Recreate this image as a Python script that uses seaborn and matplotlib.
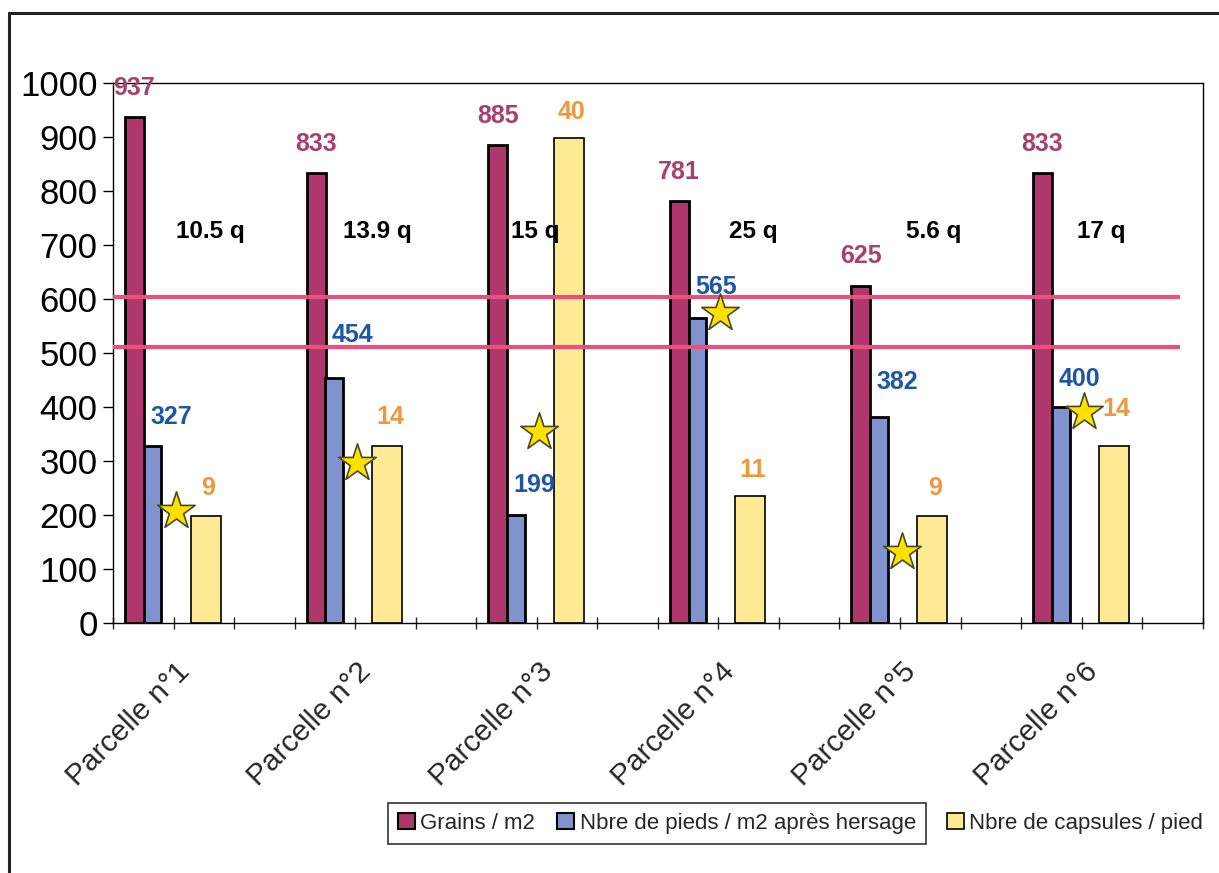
import numpy as np
import pandas as pd
import seaborn as sns
import matplotlib.pyplot as plt
from matplotlib.lines import Line2D
from matplotlib.patches import Patch

# ---- data ----
parcelles = ["Parcelle n°1", "Parcelle n°2", "Parcelle n°3",
             "Parcelle n°4", "Parcelle n°5", "Parcelle n°6"]
grains_m2 = [937, 833, 885, 781, 625, 833]
pieds_m2 = [327, 454, 199, 565, 382, 400]
capsules_pied = [9, 14, 40, 11, 9, 14]            # printed values
capsules_hauteur = [198, 327, 898, 235, 198, 327]  # bar height on the left scale
rendement_q = [10.5, 13.9, 15, 25, 5.6, 17]
etoiles = [207, 297, 354, 574, 132, 391]           # star level on the left scale
seuils = [603, 512]

# ---- style ----
COL_GRAINS = "#B0376B"
COL_PIEDS = "#8193CF"
COL_CAPS = "#FDEA92"
TXT_GRAINS = "#A8406E"
TXT_PIEDS = "#1F55A5"
TXT_CAPS = "#F0963C"
LINE_COL = "#E8507E"

sns.set_theme(style="white")
plt.rcParams["font.family"] = ["Liberation Sans", "DejaVu Sans"]

fig = plt.figure(figsize=(12.19, 8.73), dpi=100)
fig.patch.set_facecolor("white")
ax = fig.add_axes([0.0927, 0.2867, 0.8939, 0.6179])
ax.set_facecolor("white")

idx = np.arange(len(parcelles))
df = pd.DataFrame({"parcelle": parcelles, "grains": grains_m2, "pieds": pieds_m2,
                   "caps": capsules_hauteur, "etoile": etoiles})

# bar placement inside each group (group = one unit wide)
off_g, w_g = 0.118, 0.105
off_p, w_p = 0.218, 0.098
off_c, w_c = 0.51, 0.165

sns.barplot(x=idx + off_g, y=df["grains"], native_scale=True, width=w_g,
            color=COL_GRAINS, saturation=1, edgecolor="black", linewidth=2,
            errorbar=None, ax=ax, zorder=3)
sns.barplot(x=idx + off_p, y=df["pieds"], native_scale=True, width=w_p,
            color=COL_PIEDS, saturation=1, edgecolor="black", linewidth=2,
            errorbar=None, ax=ax, zorder=3)
sns.barplot(x=idx + off_c, y=df["caps"], native_scale=True, width=w_c,
            color=COL_CAPS, saturation=1, edgecolor="black", linewidth=1.2,
            errorbar=None, ax=ax, zorder=3)

# threshold lines
for s in seuils:
    ax.plot([0, 5.875], [s, s], color=LINE_COL, lw=3, zorder=4, solid_capstyle="butt")

# stars
sns.scatterplot(x=idx + 0.345, y=df["etoile"], marker="*", s=800,
                color="#FFE000", edgecolor="#4a4a20", linewidth=1.2,
                ax=ax, zorder=6, legend=False)

# value labels
blue_dy = [21, 31, 22, 22, 25, 20]
caps_dy = [20, 21, 19, 19, 20, 27]
q_dx = [0.534, 0.454, 0.327, 0.524, 0.521, 0.439]
for i in idx:
    ax.annotate(str(grains_m2[i]), (i + off_g, grains_m2[i]), xytext=(0, 21),
                textcoords="offset points", ha="center", va="center",
                fontsize=18, fontweight="bold", color=TXT_GRAINS, zorder=7)
    ax.annotate(str(pieds_m2[i]), (i + 0.32, pieds_m2[i]), xytext=(0, blue_dy[i]),
                textcoords="offset points", ha="center", va="center",
                fontsize=18, fontweight="bold", color=TXT_PIEDS, zorder=7)
    ax.annotate(str(capsules_pied[i]), (i + off_c + 0.015, capsules_hauteur[i]),
                xytext=(0, caps_dy[i]), textcoords="offset points",
                ha="center", va="center", fontsize=18, fontweight="bold",
                color=TXT_CAPS, zorder=7)
    ax.text(i + q_dx[i], 726, f"{rendement_q[i]:g} q", ha="center", va="center",
            fontsize=17.5, fontweight="bold", color="black", zorder=7)

# axes
ax.set_xlim(0, 6)
ax.set_ylim(0, 1000)
ax.set_yticks(np.arange(0, 1001, 100))
ax.tick_params(axis="y", direction="out", length=7, width=1, labelsize=25,
               pad=4, left=True, colors="black")
ax.set_xticks(idx + 0.343)
ax.set_xticklabels(parcelles, rotation=45, ha="right", va="top",
                   rotation_mode="anchor", fontsize=21.5)
ax.tick_params(axis="x", length=0, pad=25)
ax.set_xticks(np.arange(0, 6.01, 1 / 3), minor=True)
ax.tick_params(axis="x", which="minor", direction="inout", length=9, width=1,
               bottom=True)
ax.set_xlabel("")
ax.set_ylabel("")
for side in ["left", "bottom", "top", "right"]:
    ax.spines[side].set_visible(True)
    ax.spines[side].set_color("black")
    ax.spines[side].set_linewidth(1)
ax.grid(False)

# legends
h1 = [Patch(facecolor=COL_GRAINS, edgecolor="black", lw=1.5, label="Grains / m2"),
      Patch(facecolor=COL_PIEDS, edgecolor="black", lw=1.5,
            label="Nbre de pieds / m2 après hersage")]
leg1 = fig.legend(handles=h1, loc="center", bbox_to_anchor=(0.539, 0.057), ncol=2,
                  fontsize=16, frameon=True, fancybox=False, edgecolor="black",
                  handlelength=0.75, handleheight=0.75, handletextpad=0.25,
                  columnspacing=1.0, borderpad=0.45, borderaxespad=0)
leg1.get_frame().set_linewidth(1.2)
h2 = [Patch(facecolor=COL_CAPS, edgecolor="black", lw=1.2,
            label="Nbre de capsules / pied")]
fig.legend(handles=h2, loc="center", bbox_to_anchor=(0.882, 0.057), fontsize=16,
           frameon=False, handlelength=0.75, handleheight=0.75, handletextpad=0.25)

# outer frame (left and top only)
fig.add_artist(Line2D([0.007, 0.007], [0, 0.9855], color="#222222", lw=2.2))
fig.add_artist(Line2D([0.007, 1.0], [0.9855, 0.9855], color="#222222", lw=2.2))

fig.savefig("out.png", dpi=100)
